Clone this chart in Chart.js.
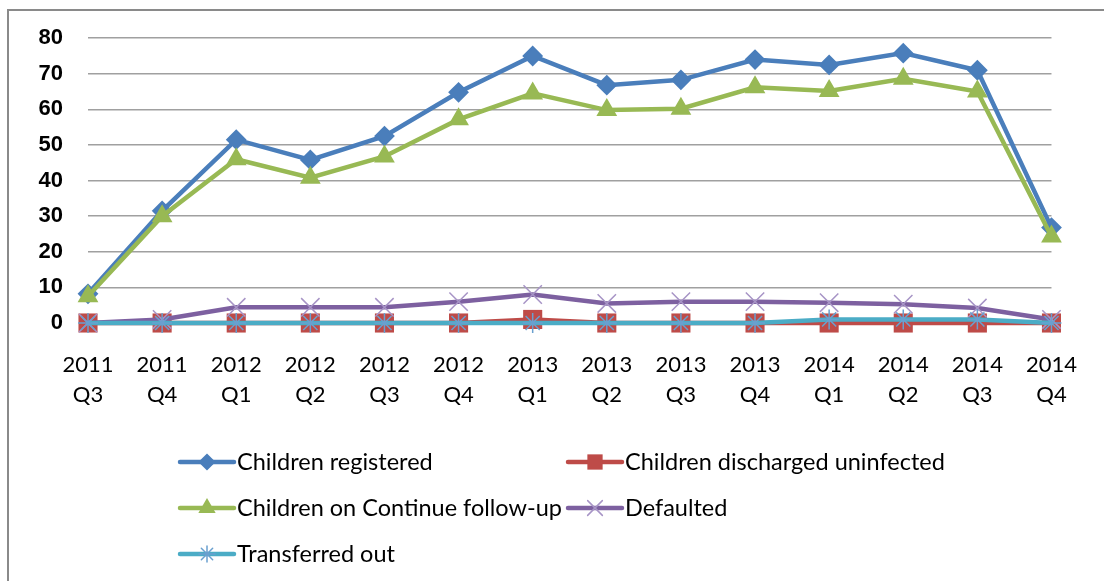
<!DOCTYPE html>
<html>
<head>
<meta charset="utf-8">
<script src="https://cdn.jsdelivr.net/npm/chart.js@4"></script>
<style>
  html, body { margin: 0; padding: 0; background: #fff; overflow: hidden; }
  #frame { position: absolute; left: 7px; top: 9px; width: 1110px; height: 600px; border: 2px solid #8a8a8a; }
  #wrap { position: absolute; left: 0; top: 0; width: 1104px; height: 581px; }
</style>
</head>
<body>
<div id="frame"></div>
<div id="wrap"><canvas id="chart" width="1104" height="581"></canvas></div>
<script>
const quarters = [
  ['2011', 'Q3'], ['2011', 'Q4'],
  ['2012', 'Q1'], ['2012', 'Q2'], ['2012', 'Q3'], ['2012', 'Q4'],
  ['2013', 'Q1'], ['2013', 'Q2'], ['2013', 'Q3'], ['2013', 'Q4'],
  ['2014', 'Q1'], ['2014', 'Q2'], ['2014', 'Q3'], ['2014', 'Q4']
];
const registered  = [8.2, 31.5, 51.5, 45.8, 52.5, 64.8, 75, 66.8, 68.3, 74, 72.5, 75.8, 71, 26.8];
const discharged  = [0, 0, 0, 0, 0, 0, 1, 0, 0, 0, 0, 0, 0, 0];
const followUp    = [7.5, 30, 46, 40.8, 46.8, 57.2, 64.5, 59.8, 60.2, 66.2, 65.2, 68.6, 65, 24.3];
const defaulted   = [0, 1, 4.4, 4.4, 4.4, 6, 8, 5.5, 6, 6, 5.7, 5.3, 4.2, 1];
const transferred = [0, 0, 0, 0, 0, 0, 0, 0, 0, 0, 1, 1, 1, 0];
const yTicks = [0, 10, 20, 30, 40, 50, 60, 70, 80];

const line = (label, data, color, style, extra) => Object.assign({
  label, data,
  borderColor: color,
  borderWidth: 4.5,
  pointStyle: style,
  pointBackgroundColor: color,
  pointBorderColor: color,
  pointBorderWidth: 2,
  pointRadius: 9,
  tension: 0,
  clip: false
}, extra);

const datasets = [
  line('Children registered', registered, '#4a7ebb', 'rectRot', { order: 5 }),
  line('Children discharged uninfected', discharged, '#be4b48', 'rect', { order: 4, pointRadius: 13.5, pointBorderWidth: 0 }),
  line('Children on Continue follow-up', followUp, '#98b954', 'triangle', { order: 3, pointRadius: 10 }),
  line('Defaulted', defaulted, '#7d60a0', 'crossRot', { order: 2, pointRadius: 13, pointBorderColor: '#a794c6', pointBorderWidth: 1.5 }),
  line('Transferred out', transferred, '#4bacc6', 'star', { order: 1, pointRadius: 10, pointBorderColor: '#6aa0cf', pointBorderWidth: 1.5 })
];

// legend laid out as a two-column grid under the plot
const gridLegend = {
  id: 'gridLegend',
  afterDraw(chart) {
    const ctx = chart.ctx;
    const left = 180, colGap = 388, top = 462, rowGap = 46, sample = 54;
    chart.data.datasets.forEach((ds, i) => {
      const x = left + (i % 2) * colGap;
      const y = top + Math.floor(i / 2) * rowGap;
      ctx.save();
      ctx.strokeStyle = ds.borderColor;
      ctx.lineWidth = ds.borderWidth;
      ctx.lineCap = 'round';
      ctx.beginPath();
      ctx.moveTo(x, y);
      ctx.lineTo(x + sample, y);
      ctx.stroke();
      ctx.fillStyle = ds.pointBackgroundColor;
      ctx.strokeStyle = ds.pointBorderColor;
      ctx.lineWidth = ds.pointBorderWidth;
      Chart.helpers.drawPoint(ctx, {
        pointStyle: ds.pointStyle, rotation: 0,
        radius: ds.pointRadius * 0.8, borderWidth: ds.pointBorderWidth
      }, x + sample / 2, y);
      ctx.fillStyle = '#000';
      ctx.font = '23.5px Lato';
      ctx.textBaseline = 'middle';
      ctx.textAlign = 'left';
      ctx.fillText(ds.label, x + sample + 3, y);
      ctx.restore();
    });
  }
};

new Chart(document.getElementById('chart'), {
  type: 'line',
  data: { labels: quarters, datasets },
  options: {
    responsive: false,
    animation: false,
    events: [],
    layout: { padding: { top: 37, right: 16, left: 0, bottom: 168 } },
    plugins: { legend: { display: false }, tooltip: { enabled: false } },
    scales: {
      x: {
        grid: { display: false, drawTicks: false },
        border: { display: false },
        ticks: { color: '#000', font: { family: 'Lato', size: 22, lineHeight: 1.36 }, padding: 27, maxRotation: 0, autoSkip: false },
        afterFit(scale) { scale.height = 90; }
      },
      y: {
        min: 0, max: 80,
        afterBuildTicks(scale) { scale.ticks = yTicks.map(v => ({ value: v })); },
        grid: { color: '#a0a0a0', lineWidth: 1.5, drawTicks: false },
        border: { display: false },
        ticks: { color: '#000', font: { family: 'Liberation Sans', size: 22, weight: 'bold' }, padding: 25 },
        afterFit(scale) { scale.width = 88; }
      }
    }
  },
  plugins: [gridLegend]
});
</script>
</body>
</html>
